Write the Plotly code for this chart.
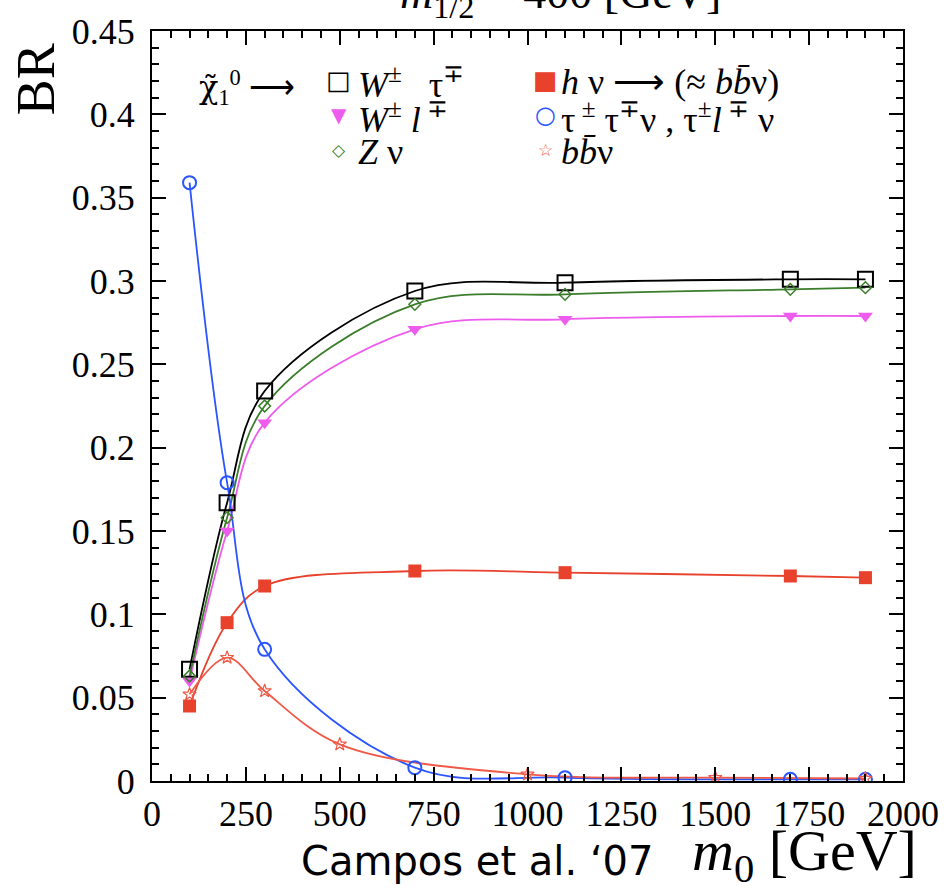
import plotly.graph_objects as go

# ---------------- data ----------------
m0_main = [100, 200, 300, 700, 1100, 1700, 1900]
br_w_tau = [0.067, 0.167, 0.234, 0.294, 0.299, 0.301, 0.301]
br_w_l = [0.060, 0.150, 0.215, 0.271, 0.277, 0.279, 0.279]
br_z_nu = [0.063, 0.158, 0.225, 0.286, 0.292, 0.295, 0.296]
br_h_nu = [0.045, 0.095, 0.117, 0.126, 0.125, 0.123, 0.122]
br_tau_tau = [0.359, 0.179, 0.079, 0.008, 0.002, 0.001, 0.001]

m0_bb = [100, 200, 300, 500, 1000, 1500, 1900]
br_bb_nu = [0.052, 0.074, 0.054, 0.022, 0.004, 0.002, 0.0015]

x_ticks = [0, 250, 500, 750, 1000, 1250, 1500, 1750, 2000]
y_ticks = [0, 0.05, 0.1, 0.15, 0.2, 0.25, 0.3, 0.35, 0.4, 0.45]

names = [
    "<i>W</i><sup>±</sup>\u00a0\u00a0\u00a0τ<sup>∓</sup>",
    "<i>W</i><sup>±</sup>\u00a0<i>l</i><sup>\u00a0∓</sup>",
    "<i>Z</i>\u00a0ν",
    "<i>h</i>\u00a0ν\u00a0⟶\u00a0(≈\u00a0<i>b</i><i>b̄</i>ν)",
    "τ<sup>\u00a0±</sup>\u00a0τ<sup>∓</sup>ν\u00a0,\u00a0τ<sup>±</sup><i>l</i><sup>\u00a0∓</sup>\u00a0ν",
    "<i>b</i><i>b̄</i>ν",
]

# ---------------- styling ----------------
SERIF = "Liberation Serif"
BLACK = "#000000"
MAGENTA = "#ee5cee"
GREEN = "#3a7d2a"
RED = "#e8412c"
RED2 = "#ef5a48"
BLUE = "#2a55ff"

W, H = 951, 889
ML, MR, MT, MB = 152, 43, 23, 108
PW, PH = W - ML - MR, H - MT - MB


def px(xp):
    return (xp - ML) / PW


def py(yp):
    return 1 - (yp - MT) / PH


fig = go.Figure()

series = [
    # x, y, color, symbol, size, outline width, name, legend glyph, glyph size
    (m0_main, br_w_tau, BLACK, "square-open", 15, 2, names[0], "□", 26),
    (m0_main, br_w_l, MAGENTA, "triangle-down", 13, 0, names[1], "▼", 20),
    (m0_main, br_z_nu, GREEN, "diamond-open", 9, 1.5, names[2], "◇", 17),
    (m0_main, br_h_nu, RED, "square", 13, 0, names[3], "■", 26),
    (m0_main, br_tau_tau, BLUE, "circle-open", 13, 2, names[4], "○", 24),
    (m0_bb, br_bb_nu, RED2, "star-open", 10, 1.2, names[5], "☆", 17),
]

for x, y, c, sym, sz, lw, name, g, gs in series:
    fig.add_trace(go.Scatter(
        x=x, y=y, mode="lines",
        line=dict(color=c, width=1.8, shape="spline", smoothing=1.0),
        showlegend=False, hoverinfo="skip"))

for x, y, c, sym, sz, lw, name, g, gs in series:
    mk = dict(symbol=sym, size=sz, color=c)
    if sym.endswith("open"):
        mk["line"] = dict(color=c, width=lw)
    fig.add_trace(go.Scatter(
        x=x, y=y, mode="markers", marker=mk, name=name, showlegend=False))

axis_common = dict(
    showline=True, linecolor="black", linewidth=2, mirror="allticks",
    ticks="inside", ticklen=14, tickwidth=2, tickcolor="black",
    showgrid=False, zeroline=False,
    tickfont=dict(family=SERIF, size=36, color="black"),
)

fig.update_xaxes(
    range=[0, 2000], tickvals=x_ticks, ticktext=[str(v) for v in x_ticks],
    minor=dict(dtick=50, ticks="inside", ticklen=7, tickwidth=2, tickcolor="black"),
    **axis_common)
fig.update_yaxes(
    range=[0, 0.45], tickvals=y_ticks, ticktext=[("%g" % v) for v in y_ticks],
    minor=dict(dtick=0.01, ticks="inside", ticklen=7, tickwidth=2, tickcolor="black"),
    ticklabelstandoff=8,
    **axis_common)

annotations = []

# legend block (two columns) drawn as text
row_y = [73, 108, 143]
col_sym_x = [340, 548]
col_txt_x = [357, 562]
for i, (x, y, c, sym, sz, lw, name, g, gs) in enumerate(series):
    col, row = divmod(i, 3)
    annotations.append(dict(
        text=g, xref="paper", yref="paper", x=px(col_sym_x[col]), y=py(row_y[row]),
        xanchor="center", yanchor="middle", showarrow=False,
        font=dict(family="DejaVu Sans", size=gs, color=c)))
    annotations.append(dict(
        text=name, xref="paper", yref="paper", x=px(col_txt_x[col]), y=py(row_y[row] + 2),
        xanchor="left", yanchor="middle", showarrow=False,
        font=dict(family=SERIF, size=36, color="black")))

annotations += [
    dict(text="<span style='font-family:DejaVu Serif'>χ̃</span><sub>1</sub><sup>0</sup>\u00a0⟶",
         xref="paper", yref="paper",
         x=px(197), y=py(80), xanchor="left", yanchor="middle",
         showarrow=False, font=dict(family=SERIF, size=32, color="black")),
    dict(text="BR", xref="paper", yref="paper", textangle=-90,
         x=px(36), y=py(72), xanchor="center", yanchor="middle",
         showarrow=False, font=dict(family=SERIF, size=54, color="black")),
    dict(text="<i>m</i><sub>0</sub> [GeV]", xref="paper", yref="paper",
         x=px(924), y=py(855), xanchor="right", yanchor="middle",
         showarrow=False, font=dict(family=SERIF, size=58, color="black")),
    dict(text="Campos et al. ‘07", xref="paper", yref="paper",
         x=px(300), y=py(862), xanchor="left", yanchor="middle",
         showarrow=False, font=dict(family="DejaVu Sans", size=40, color="black")),
    dict(text="<i>m</i><sub>1/2</sub> = 400 [GeV]", xref="paper", yref="paper",
         x=px(727), y=py(19), xanchor="right", yanchor="bottom",
         showarrow=False, font=dict(family=SERIF, size=46, color="black")),
]

fig.update_layout(
    width=W, height=H,
    margin=dict(l=ML, r=MR, t=MT, b=MB),
    paper_bgcolor="white", plot_bgcolor="white",
    showlegend=False,
    annotations=annotations,
)

fig.write_html("out.html")
